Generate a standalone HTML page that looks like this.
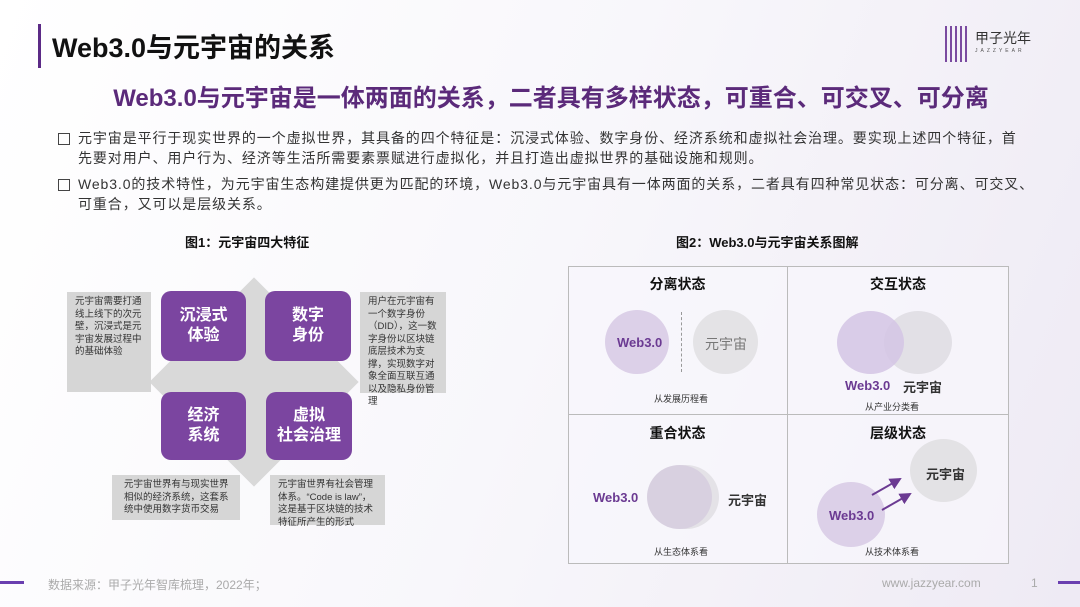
<!DOCTYPE html>
<html><head><meta charset="utf-8"><style>
*{margin:0;padding:0;box-sizing:border-box}
body{width:1080px;height:607px;overflow:hidden;position:relative;background:linear-gradient(110deg,#fff 0%,#f8f7fb 50%,#eeeaf4 100%);font-family:"Liberation Sans","Noto Sans CJK SC",sans-serif;color:#333}
.a{position:absolute}
.title{left:52px;top:26px;font-size:27px;font-weight:bold;color:#111}
.bar{left:38px;top:24px;width:3px;height:44px;background:#5b2a86}
.sub{left:0;width:1080px;top:78px;text-align:center;font-size:24px;font-weight:bold;color:#5b2a7a;padding-left:22px}
.bl{left:58px;font-size:14px;line-height:20px;color:#333;width:1010px;white-space:nowrap}
.bl:before{content:"";position:absolute;left:0;top:5px;width:10px;height:10px;border:1.5px solid #444}
.bl span{display:block;padding-left:20px;letter-spacing:0.9px}
.ft{font-size:13px;font-weight:bold;color:#111}
.pb{background:#7b45a0;border-radius:10px;color:#fff;font-size:16px;font-weight:bold;text-align:center;display:flex;align-items:center;justify-content:center;line-height:20px}
.gb{background:#d6d6d6;font-size:9.5px;line-height:12.5px;color:#333;padding:4px 8px}
.cell{font-size:14px;font-weight:bold;color:#111;text-align:center}
.c{border-radius:50%;position:absolute}
.w{color:#6b3a92;font-weight:bold;font-size:13px}
.s{font-size:9px;color:#333}
</style></head><body>
<div class="a bar"></div>
<div class="a title">Web3.0与元宇宙的关系</div>
<div class="a" style="left:945px;top:26px;width:22px;height:36px;background:repeating-linear-gradient(90deg,#7a4aa0 0 2px,transparent 2px 5px)"></div>
<div class="a" style="left:975px;top:28px;font-size:14px;color:#333">甲子光年</div>
<div class="a" style="left:975px;top:48px;font-size:5px;letter-spacing:3px;color:#555">JAZZYEAR</div>
<div class="a sub">Web3.0与元宇宙是一体两面的关系，二者具有多样状态，可重合、可交叉、可分离</div>
<div class="a bl" style="top:128px"><span>元宇宙是平行于现实世界的一个虚拟世界，其具备的四个特征是：沉浸式体验、数字身份、经济系统和虚拟社会治理。要实现上述四个特征，首<br>先要对用户、用户行为、经济等生活所需要素票赋进行虚拟化，并且打造出虚拟世界的基础设施和规则。</span></div>
<div class="a bl" style="top:174px"><span>Web3.0的技术特性，为元宇宙生态构建提供更为匹配的环境，Web3.0与元宇宙具有一体两面的关系，二者具有四种常见状态：可分离、可交叉、<br>可重合，又可以是层级关系。</span></div>
<div class="a ft" style="left:185px;top:232px">图1：元宇宙四大特征</div>
<div class="a ft" style="left:676px;top:232px">图2：Web3.0与元宇宙关系图解</div>
<!-- left diagram -->
<div class="a" style="left:180px;top:308px;width:148px;height:148px;background:#d9d9d9;transform:rotate(45deg)"></div>
<div class="a pb" style="left:161px;top:291px;width:85px;height:70px">沉浸式<br>体验</div>
<div class="a pb" style="left:265px;top:291px;width:86px;height:70px">数字<br>身份</div>
<div class="a pb" style="left:161px;top:392px;width:85px;height:68px">经济<br>系统</div>
<div class="a pb" style="left:266px;top:392px;width:86px;height:68px">虚拟<br>社会治理</div>
<div class="a gb" style="left:67px;top:292px;width:84px;height:100px">元宇宙需要打通线上线下的次元壁，沉浸式是元宇宙发展过程中的基础体验</div>
<div class="a gb" style="left:360px;top:292px;width:86px;height:101px">用户在元宇宙有一个数字身份（DID），这一数字身份以区块链底层技术为支撑，实现数字对象全面互联互通以及隐私身份管理</div>
<div class="a gb" style="left:112px;top:475px;width:128px;height:45px;padding-left:12px">元宇宙世界有与现实世界相似的经济系统，这套系统中使用数字货币交易</div>
<div class="a gb" style="left:270px;top:475px;width:115px;height:50px">元宇宙世界有社会管理体系。“Code is law”，这是基于区块链的技术特征所产生的形式</div>
<!-- right grid -->
<div class="a" style="left:568px;top:266px;width:441px;height:298px;border:1px solid #bbb;background:rgba(248,247,252,.7)"></div>
<div class="a" style="left:787px;top:266px;width:1px;height:298px;background:#bbb"></div>
<div class="a" style="left:568px;top:414px;width:441px;height:1px;background:#bbb"></div>
<div class="a cell" style="left:568px;top:274px;width:219px">分离状态</div>
<div class="a cell" style="left:788px;top:274px;width:220px">交互状态</div>
<div class="a cell" style="left:568px;top:423px;width:219px">重合状态</div>
<div class="a cell" style="left:788px;top:423px;width:220px">层级状态</div>
<!-- q1 -->
<div class="c" style="left:605px;top:310px;width:64px;height:64px;background:#dcd0e8"></div>
<div class="a w" style="left:617px;top:335px">Web3.0</div>
<div class="a" style="left:681px;top:312px;height:60px;border-left:1px dashed #999"></div>
<div class="c" style="left:693px;top:310px;width:65px;height:64px;background:#e4e3e6"></div>
<div class="a" style="left:705px;top:334px;font-size:14px;color:#777">元宇宙</div>
<div class="a s" style="left:654px;top:392px">从发展历程看</div>
<!-- q2 -->
<div class="c" style="left:884px;top:311px;width:68px;height:63px;background:#e2e0e6"></div>
<div class="c" style="left:837px;top:311px;width:67px;height:63px;background:rgba(212,196,228,.85)"></div>
<div class="a w" style="left:845px;top:378px">Web3.0</div>
<div class="a" style="left:903px;top:377px;font-size:13px;font-weight:bold;color:#333">元宇宙</div>
<div class="a s" style="left:865px;top:400px">从产业分类看</div>
<!-- q3 -->
<div class="c" style="left:653px;top:465px;width:66px;height:64px;background:#e4e2e7"></div>
<div class="c" style="left:647px;top:465px;width:65px;height:64px;background:#d8d0e0"></div>
<div class="a w" style="left:593px;top:490px">Web3.0</div>
<div class="a" style="left:728px;top:490px;font-size:13px;font-weight:bold;color:#333">元宇宙</div>
<div class="a s" style="left:654px;top:545px">从生态体系看</div>
<!-- q4 -->
<div class="c" style="left:910px;top:439px;width:67px;height:63px;background:#e3e2e5"></div>
<div class="a" style="left:926px;top:464px;font-size:13px;font-weight:bold;color:#333">元宇宙</div>
<div class="c" style="left:817px;top:482px;width:68px;height:65px;background:#dcd0e8"></div>
<div class="a w" style="left:829px;top:508px">Web3.0</div>
<svg class="a" style="left:870px;top:465px" width="60" height="60"><defs><marker id="m" markerWidth="6" markerHeight="6" refX="5" refY="3" orient="auto"><path d="M0,0L6,3L0,6z" fill="#6b3a92"/></marker></defs><line x1="2" y1="30" x2="30" y2="14" stroke="#6b3a92" stroke-width="2" marker-end="url(#m)"/><line x1="12" y1="45" x2="40" y2="29" stroke="#6b3a92" stroke-width="2" marker-end="url(#m)"/></svg>
<div class="a s" style="left:865px;top:545px">从技术体系看</div>
<!-- footer -->
<div class="a" style="left:0;top:581px;width:24px;height:3px;background:#6a3fb0"></div>
<div class="a" style="left:48px;top:576px;font-size:12px;color:#aaa">数据来源：甲子光年智库梳理，2022年；</div>
<div class="a" style="left:882px;top:576px;font-size:12px;color:#aaa">www.jazzyear.com</div>
<div class="a" style="left:1031px;top:576px;font-size:12px;color:#aaa">1</div>
<div class="a" style="left:1058px;top:581px;width:22px;height:3px;background:#6a3fb0"></div>
</body></html>
